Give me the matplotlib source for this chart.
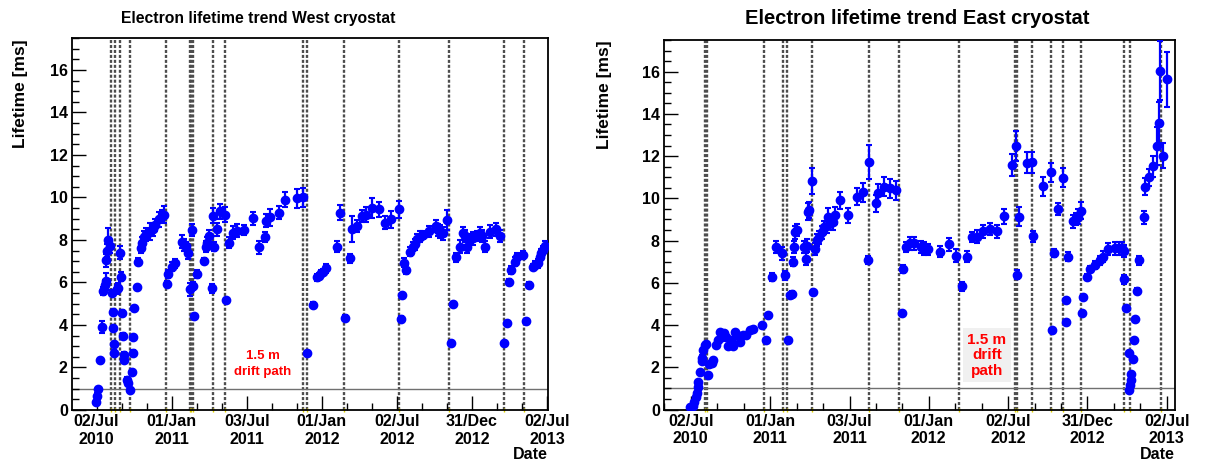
import numpy as np
import matplotlib
matplotlib.use("Agg")
import matplotlib.pyplot as plt
import matplotlib.dates as mdates
from datetime import datetime

plt.rcParams["font.family"] = ["Liberation Sans", "DejaVu Sans"]
plt.rcParams["font.weight"] = "bold"

START = datetime(2010, 7, 2)

# West cryostat: days since 02/Jul/2010, lifetime [ms], error [ms]
west_day = [-2, 2, 4.5, 8.5, 12.6, 16.6, 20.7, 23, 24, 26, 29, 33, 37, 39, 41, 42.6, 43.4,
             50.7, 53, 57, 59, 61, 63.7, 67, 67.7, 73, 76, 81.5, 85.6, 88, 89.6, 91, 97.7,
             102, 107, 111.5, 115.6, 120, 130, 136.7, 142, 153, 158.6, 164, 171, 175, 183,
             191, 207, 213, 218, 223.5, 227.5, 231.5, 235, 238, 244, 261.5, 265.6, 269.7,
             274.5, 280, 282.6, 286.7, 292.4, 300.5, 312.6, 315, 323, 331, 342.6, 358.8,
             380, 394, 410, 412.5, 422, 444, 458.6, 487, 503, 511, 527.5, 536, 540, 545.5,
             552, 558, 584, 593, 604.5, 617, 622.5, 632.8, 645, 655.5, 669.5, 687, 702,
             716.5, 735, 740, 742.5, 748, 752, 762.6, 769, 775, 780.6, 787, 793, 807.5, 826,
             830, 836, 842, 852, 862, 866.5, 874.6, 884.5, 890.9, 896.6, 900.7, 907, 915,
             925, 931.5, 937, 945, 956, 972, 982, 991.8, 998, 1003.7, 1007.8, 1016.6,
             1022.3, 1036, 1045, 1050.7, 1061, 1067, 1072.6, 1077.6, 1081.6, 1085.6, 1090]
west_val = [0.36, 0.68, 0.99, 2.33, 3.9, 5.6, 5.87, 6.06, 7.05, 7.5, 8.0, 7.7, 5.5, 4.6, 3.86,
            3.09, 2.7, 5.67, 5.76, 7.4, 6.27, 4.57, 3.5, 2.6, 2.36, 1.43, 1.26, 0.94, 1.78,
            2.7, 3.43, 4.8, 5.8, 6.98, 7.6, 7.87, 8.13, 8.27, 8.39, 8.5, 8.7, 8.98, 9.13,
            9.18, 5.92, 6.4, 6.74, 6.9, 7.92, 7.76, 7.72, 7.4, 5.67, 8.47, 5.83, 4.4, 6.4,
            7.02, 7.68, 7.87, 8.19, 5.72, 9.13, 7.68, 8.5, 9.34, 9.18, 5.17, 7.87, 8.35,
            8.44, 8.47, 9.02, 7.65, 8.13, 8.9, 9.07, 9.29, 9.9, 9.95, 10.0, 2.68, 4.96,
            6.24, 6.3, 6.43, 6.5, 6.66, 7.69, 9.28, 4.35, 7.13, 8.52, 8.66, 9.13, 9.18,
            9.5, 9.45, 8.82, 8.98, 9.45, 4.3, 5.4, 6.93, 6.6, 7.45, 7.69, 7.8, 8.03, 8.16,
            8.24, 8.4, 8.66, 8.47, 8.4, 8.31, 8.94, 3.15, 5.0, 7.18, 7.69, 8.31, 8.19,
            7.69, 8.0, 8.08, 8.19, 8.31, 8.19, 7.69, 8.39, 8.5, 8.19, 3.15, 4.09, 6.03,
            6.58, 6.98, 7.18, 7.29, 4.19, 5.87, 6.74, 6.82, 6.9, 7.18, 7.37, 7.53, 7.73]
west_err = [0.1, 0.1, 0.1, 0.1, 0.3, 0.2, 0.25, 0.4, 0.3, 0.3, 0.55, 0.3, 0.15, 0.1, 0.1,
            0.1, 0.1, 0.2, 0.2, 0.3, 0.2, 0.15, 0.1, 0.15, 0.1, 0.1, 0.1, 0.1, 0.1, 0.1,
            0.1, 0.1, 0.1, 0.15, 0.2, 0.25, 0.3, 0.3, 0.4, 0.3, 0.3, 0.35, 0.3, 0.4, 0.15,
            0.2, 0.2, 0.2, 0.3, 0.3, 0.2, 0.3, 0.3, 0.3, 0.2, 0.1, 0.2, 0.15, 0.25, 0.25,
            0.3, 0.2, 0.35, 0.2, 0.3, 0.35, 0.35, 0.1, 0.25, 0.3, 0.3, 0.25, 0.3, 0.3,
            0.25, 0.3, 0.4, 0.3, 0.35, 0.45, 0.45, 0.1, 0.1, 0.15, 0.15, 0.15, 0.15, 0.2,
            0.25, 0.35, 0.1, 0.2, 0.6, 0.3, 0.3, 0.35, 0.45, 0.35, 0.3, 0.4, 0.4, 0.1, 0.1,
            0.2, 0.2, 0.2, 0.2, 0.25, 0.25, 0.25, 0.2, 0.25, 0.3, 0.3, 0.3, 0.3, 0.45,
            0.1, 0.1, 0.2, 0.3, 0.3, 0.3, 0.3, 0.3, 0.3, 0.25, 0.3, 0.3, 0.25, 0.3, 0.3,
            0.3, 0.1, 0.1, 0.15, 0.2, 0.2, 0.2, 0.2, 0.1, 0.15, 0.15, 0.2, 0.2, 0.2, 0.2,
            0.2, 0.2]
west_events = [34.5, 45, 57, 81.5, 169, 228, 231, 234, 283, 313, 503, 513, 603, 736, 858,
               990, 1040]

# East cryostat
east_day = [-1.5, 4.6, 8.4, 11.5, 13.8, 16, 17.7, 21.5, 25.3, 26.9, 29, 33, 34.5, 40.7, 43,
            48, 52, 58, 63.7, 67.5, 71.4, 76.7, 81.4, 86.7, 92, 98, 102, 107.4, 113.6,
            119.7, 127.4, 136.6, 144, 163.5, 173.5, 178.8, 186.5, 196, 211, 217, 225,
            228.7, 232.5, 235, 238, 240, 244, 261.7, 264.8, 268.6, 271, 273, 280, 282.4,
            286, 290, 295.5, 301.6, 307, 313, 317, 327, 332, 344, 361, 382, 396, 409, 411,
            426, 432, 446, 459, 473, 486, 489, 496, 504, 514, 531, 538, 547, 574, 595, 611,
            624, 635.5, 647, 658, 672, 689, 706, 721.6, 739, 748.3, 750.6, 755, 773.6, 785,
            787.5, 812, 829.6, 831, 836.5, 846.5, 856.5, 863.4, 864, 869.5, 879.5, 887,
            892.6, 898, 900, 904, 912, 919, 931, 941.3, 949, 960, 977, 985, 992.4, 998,
            998.5, 1002, 1008, 1010, 1011.5, 1013, 1013.5, 1018, 1021.5, 1023, 1027, 1031,
            1042.5, 1046, 1056, 1065, 1072.5, 1079, 1080.5, 1086.6, 1096]
east_val = [0.13, 0.16, 0.36, 0.6, 0.79, 1.07, 1.31, 1.78, 2.3, 2.46, 2.8, 3.04, 3.09, 1.62,
            2.17, 2.2, 2.33, 3.04, 3.28, 3.67, 3.43, 3.62, 3.43, 3.0, 3.28, 3.0, 3.67, 3.51,
            3.2, 3.51, 3.51, 3.75, 3.83, 3.98, 3.31, 4.46, 6.27, 7.69, 7.4, 6.35, 3.31, 5.4,
            5.48, 7.0, 7.69, 8.39, 8.5, 7.69, 7.13, 7.76, 9.37, 9.45, 10.82, 5.56, 7.6,
            8.03, 8.16, 8.39, 8.63, 8.7, 9.13, 8.87, 9.2, 9.9, 9.2, 10.08, 10.3, 7.09,
            11.73, 9.76, 10.24, 10.55, 10.47, 10.39, 4.56, 6.66, 7.7, 7.87, 7.87, 7.69,
            7.62, 7.58, 7.47, 7.83, 7.29, 5.83, 7.24, 8.16, 8.19, 8.44, 8.55, 8.44, 9.15,
            11.58, 12.47, 6.39, 9.13, 11.68, 11.71, 8.2, 10.57, 11.23, 3.78, 7.4, 9.5,
            10.97, 5.17, 4.14, 7.24, 8.91, 9.02, 9.13, 9.42, 4.58, 5.32, 6.27, 6.66, 6.85,
            7.06, 7.24, 7.6, 7.64, 7.64, 7.64, 7.5, 6.16, 4.82, 2.68, 0.94, 1.18, 1.39,
            1.7, 2.41, 3.28, 4.3, 5.6, 7.06, 9.1, 10.56, 11.0, 11.52, 12.5, 13.55, 16.04,
            12.02, 15.65]
east_err = [0.05, 0.05, 0.05, 0.05, 0.05, 0.05, 0.05, 0.1, 0.1, 0.1, 0.1, 0.1, 0.1, 0.1,
            0.1, 0.1, 0.1, 0.1, 0.1, 0.1, 0.1, 0.1, 0.1, 0.1, 0.1, 0.1, 0.1, 0.1,
            0.1, 0.1, 0.1, 0.1, 0.1, 0.1, 0.1, 0.1, 0.2, 0.3, 0.3, 0.2, 0.1, 0.1,
            0.15, 0.2, 0.3, 0.3, 0.3, 0.3, 0.3, 0.3, 0.4, 0.4, 0.6, 0.1, 0.3,
            0.3, 0.3, 0.3, 0.3, 0.35, 0.4, 0.35, 0.4, 0.4, 0.35, 0.4, 0.45, 0.2,
            0.8, 0.4, 0.45, 0.45, 0.45, 0.45, 0.1, 0.2, 0.25, 0.3, 0.3, 0.3,
            0.3, 0.25, 0.25, 0.3, 0.3, 0.2, 0.25, 0.25, 0.3, 0.3, 0.3, 0.3, 0.35,
            0.5, 0.7, 0.2, 0.45, 0.5, 0.5, 0.25, 0.45, 0.45, 0.1, 0.2, 0.3,
            0.45, 0.1, 0.1, 0.2, 0.3, 0.3, 0.35, 0.4, 0.1, 0.1, 0.15, 0.15, 0.2,
            0.2, 0.25, 0.3, 0.3, 0.3, 0.3, 0.3, 0.2, 0.1, 0.1, 0.05, 0.05, 0.05,
            0.05, 0.1, 0.1, 0.1, 0.15, 0.2, 0.3, 0.4, 0.4, 0.5, 0.9, 1.0, 1.4,
            0.6, 1.3]
east_events = [33, 38, 169.5, 213, 221, 280, 411, 479.5, 617.6, 746.5, 752, 785, 829.4, 857.7,
               898.5, 997.5, 1011.3, 1082.6]

tick_dates = ["2010-07-02", "2011-01-01", "2011-07-03", "2012-01-01", "2012-07-02",
              "2012-12-31", "2013-07-02"]


def to_num(days):
    return mdates.date2num(START) + np.asarray(days, dtype=float)


def draw_panel(ax, days, vals, errs, events, xlim):
    x0, x1 = to_num(xlim)
    for ev in to_num(events):
        ax.axvline(ev, color="#4d4d4d", lw=1.7, ls=(0, (1.3, 0.8)), zorder=1)
    ax.plot(to_num(events), np.zeros(len(events)), ls="none", marker="|",
            color="#e0d000", ms=3, zorder=2, clip_on=False)
    ax.axhline(1.0, color="#707070", lw=1.0, zorder=1)
    ax.errorbar(to_num(days), vals, yerr=errs, fmt="o", color="blue", ms=6,
                elinewidth=1.6, capsize=2, capthick=1.5, zorder=3)
    ax.set_xlim(x0, x1)
    ax.set_ylim(0, 17.5)

    majors = mdates.datestr2num(tick_dates)
    minors = []
    step = majors[1] - majors[0]
    edges = np.concatenate([[majors[0] - step], majors, [majors[-1] + step]])
    for a, b in zip(edges[:-1], edges[1:]):
        for f in (1 / 3, 2 / 3):
            m = a + f * (b - a)
            if x0 <= m <= x1:
                minors.append(m)
    ax.set_xticks(majors)
    ax.set_xticks(minors, minor=True)
    ax.xaxis.set_major_formatter(mdates.DateFormatter("%d/%b\n%Y"))
    ax.set_yticks(np.arange(0, 17, 2))
    ax.set_yticks(np.arange(0, 17.6, 0.5), minor=True)
    ax.tick_params(which="both", direction="in", top=False, right=False,
                   labelsize=11.5, width=1.0, color="black")
    ax.tick_params(which="major", length=10)
    ax.tick_params(which="minor", length=5)
    ax.tick_params(axis="x", pad=3)
    ax.tick_params(axis="y", pad=3)
    for lab in ax.get_xticklabels() + ax.get_yticklabels():
        lab.set_fontweight("bold")
    for s in ax.spines.values():
        s.set_linewidth(1.3)


fig = plt.figure(figsize=(12.05, 4.61), dpi=100)
axL = fig.add_axes([72 / 1205, 51 / 461, 476 / 1205, 372 / 461])
axR = fig.add_axes([664 / 1205, 51.5 / 461, 511 / 1205, 369.5 / 461])

draw_panel(axL, west_day, west_val, west_err, west_events, (-59.6, 1098))
draw_panel(axR, east_day, east_val, east_err, east_events, (-61.5, 1115))

fig.text(258 / 1205, 1 - 18 / 461, "Electron lifetime trend West cryostat",
         ha="center", va="center", fontsize=11.3, fontweight="bold")
fig.text(917 / 1205, 1 - 18 / 461, "Electron lifetime trend East cryostat",
         ha="center", va="center", fontsize=14.5, fontweight="bold")
fig.text(21 / 1205, 1 - 39 / 461, "Lifetime [ms]", rotation=90, ha="center", va="top",
         fontsize=12.5, fontweight="bold")
fig.text(605 / 1205, 1 - 40 / 461, "Lifetime [ms]", rotation=90, ha="center", va="top",
         fontsize=12.5, fontweight="bold")
fig.text(548 / 1205, 1 - 454 / 461, "Date", ha="right", va="center", fontsize=11.5,
         fontweight="bold")
fig.text(1175 / 1205, 1 - 454 / 461, "Date", ha="right", va="center", fontsize=11.5,
         fontweight="bold")

axL.text(to_num(405), 2.16, "1.5 m\ndrift path", color="red", ha="center", va="center",
         multialignment="center", fontsize=9.5, fontweight="bold", linespacing=1.4)
axR.text(to_num(682), 2.57, "1.5 m\ndrift\npath", color="red", ha="center", va="center",
         multialignment="center", fontsize=11, fontweight="bold", linespacing=1.15,
         bbox=dict(facecolor="#f0f0f0", edgecolor="none", pad=3))

fig.savefig("out.png", dpi=100)
